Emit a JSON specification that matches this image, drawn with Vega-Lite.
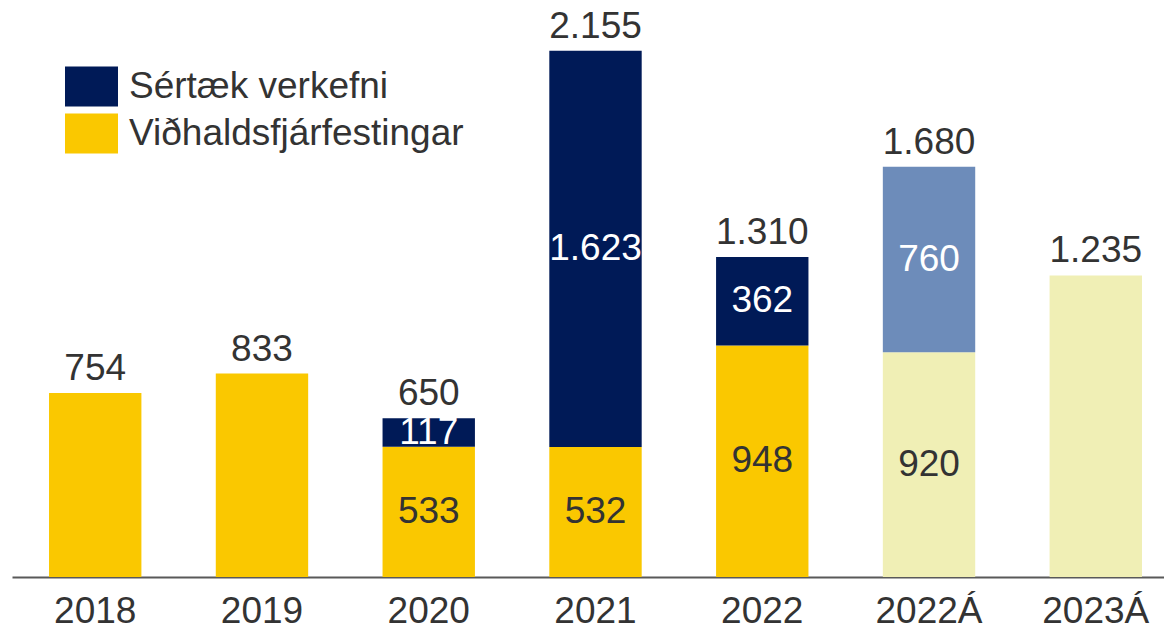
{
  "$schema": "https://vega.github.io/schema/vega-lite/v6.json",
  "width": 1167,
  "height": 577,
  "autosize": {"type": "none"},
  "padding": {"left": 12, "top": 0, "right": 0, "bottom": 47},
  "config": {
    "locale": {"number": {"decimal": ",", "thousands": ".", "grouping": [3], "currency": ["", " kr."]}},
    "view": {"stroke": null},
    "font": "Liberation Sans"
  },
  "data": {
    "values": [
      {"year": "2018", "series": "Viðhaldsfjárfestingar", "cat": "Viðhaldsfjárfestingar", "value": 754},
      {"year": "2019", "series": "Viðhaldsfjárfestingar", "cat": "Viðhaldsfjárfestingar", "value": 833},
      {"year": "2020", "series": "Viðhaldsfjárfestingar", "cat": "Viðhaldsfjárfestingar", "value": 533},
      {"year": "2020", "series": "Sértæk verkefni", "cat": "Sértæk verkefni", "value": 117},
      {"year": "2021", "series": "Viðhaldsfjárfestingar", "cat": "Viðhaldsfjárfestingar", "value": 532},
      {"year": "2021", "series": "Sértæk verkefni", "cat": "Sértæk verkefni", "value": 1623},
      {"year": "2022", "series": "Viðhaldsfjárfestingar", "cat": "Viðhaldsfjárfestingar", "value": 948},
      {"year": "2022", "series": "Sértæk verkefni", "cat": "Sértæk verkefni", "value": 362},
      {"year": "2022Á", "series": "Viðhaldsfjárfestingar", "cat": "Viðhaldsfjárfestingar (áætlun)", "value": 920},
      {"year": "2022Á", "series": "Sértæk verkefni", "cat": "Sértæk verkefni (áætlun)", "value": 760},
      {"year": "2023Á", "series": "Viðhaldsfjárfestingar", "cat": "Viðhaldsfjárfestingar (áætlun)", "value": 1235}
    ]
  },
  "encoding": {
    "x": {
      "field": "year",
      "type": "nominal",
      "sort": null,
      "scale": {"paddingInner": 0.446, "paddingOuter": 0.222},
      "axis": {
        "title": null,
        "labelAngle": 0,
        "labelFontSize": 37,
        "labelColor": "#333333",
        "labelFont": "Liberation Sans",
        "ticks": false,
        "labelPadding": 16,
        "domainColor": "#595959",
        "domainWidth": 2,
        "grid": false
      }
    }
  },
  "layer": [
    {
      "mark": {"type": "bar"},
      "encoding": {
        "y": {"field": "value", "type": "quantitative", "stack": "zero", "scale": {"domain": [0, 2363], "nice": false}, "axis": null},
        "color": {
          "field": "cat",
          "type": "nominal",
          "scale": {
            "domain": ["Sértæk verkefni", "Viðhaldsfjárfestingar", "Sértæk verkefni (áætlun)", "Viðhaldsfjárfestingar (áætlun)"],
            "range": ["#001A57", "#FAC800", "#6D8CBA", "#F0EFB5"]
          },
          "legend": {
            "title": null,
            "orient": "none",
            "legendX": 53,
            "legendY": 60,
            "values": ["Sértæk verkefni", "Viðhaldsfjárfestingar"],
            "symbolType": "M-1,-0.755H1V0.755H-1Z",
            "symbolSize": 2809,
            "symbolStrokeWidth": 0,
            "symbolOpacity": 1,
            "labelFontSize": 37,
            "labelColor": "#333333",
            "labelFont": "Liberation Sans",
            "labelOffset": 11,
            "rowPadding": 0,
            "labelLimit": 800,
            "padding": 0
          }
        },
        "order": {"field": "series", "sort": "descending"}
      }
    },
    {
      "transform": [{"filter": {"field": "year", "oneOf": ["2020", "2021", "2022", "2022Á"]}}],
      "mark": {"type": "text", "fontSize": 37, "baseline": "middle", "font": "Liberation Sans"},
      "encoding": {
        "y": {"field": "value", "type": "quantitative", "stack": "zero", "bandPosition": 0.5},
        "detail": {"field": "series"},
        "order": {"field": "series", "sort": "descending"},
        "text": {"field": "value", "type": "quantitative", "format": ",d"},
        "color": {"condition": {"test": "datum.series === 'Sértæk verkefni'", "value": "#ffffff"}, "value": "#333333"}
      }
    },
    {
      "mark": {"type": "text", "fontSize": 37, "baseline": "alphabetic", "dy": -13, "color": "#333333", "font": "Liberation Sans"},
      "encoding": {
        "y": {"aggregate": "sum", "field": "value", "type": "quantitative"},
        "text": {"aggregate": "sum", "field": "value", "type": "quantitative", "format": ",d"}
      }
    }
  ]
}
